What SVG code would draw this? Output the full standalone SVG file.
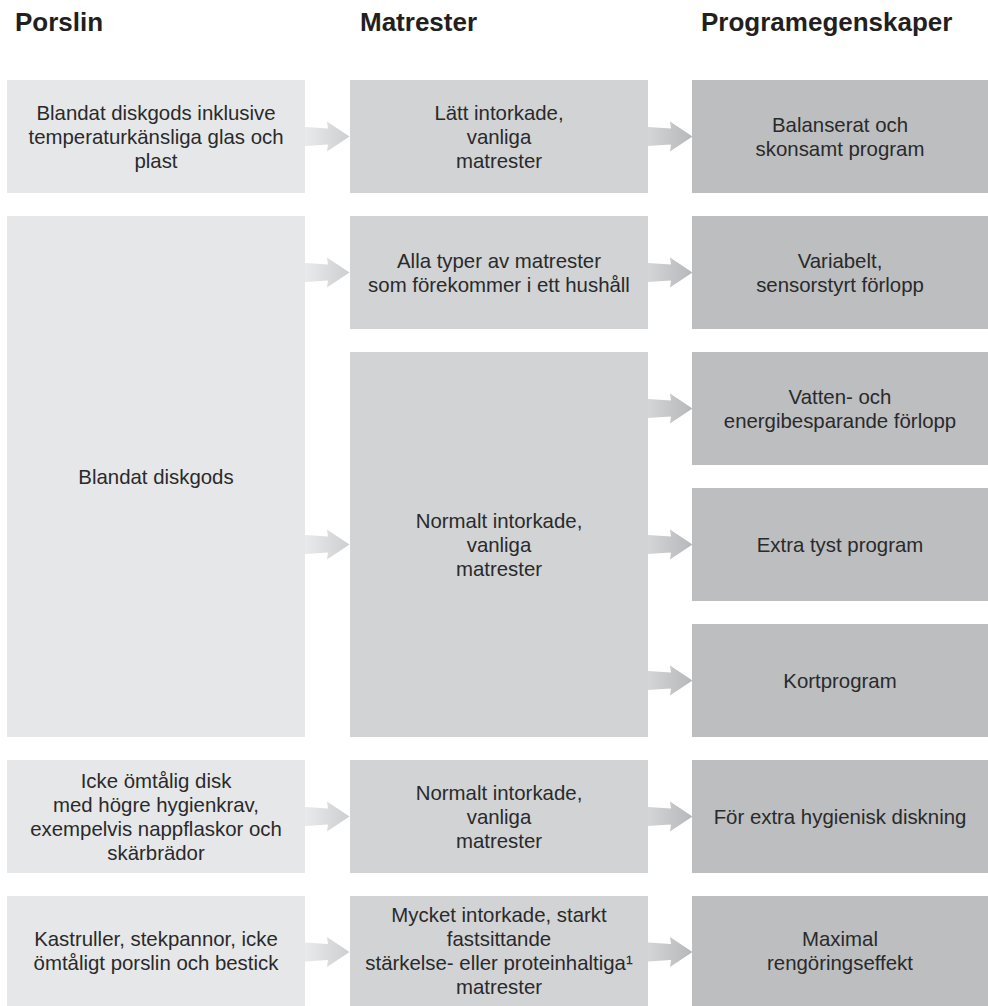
<svg xmlns="http://www.w3.org/2000/svg" width="988" height="1006" viewBox="0 0 988 1006">
<style>
.h{font-family:"Liberation Sans",Arial,sans-serif;font-weight:bold;font-size:26px;fill:#231f20}
.t{font-family:"Liberation Sans",Arial,sans-serif;font-size:20.4px;fill:#2a2a2b;text-anchor:middle}
.c1{fill:#e6e7e8}
.c2{fill:#d1d3d4}
.c3{fill:#bcbec0}
.a1{fill:url(#g1)}
.a2{fill:url(#g2)}
</style>
<defs>
<linearGradient id="g1" x1="0" y1="0" x2="1" y2="0">
<stop offset="0" stop-color="#e9eaeb"/>
<stop offset="1" stop-color="#cdcecf"/>
</linearGradient>
<linearGradient id="g2" x1="0" y1="0" x2="1" y2="0">
<stop offset="0" stop-color="#d4d5d7"/>
<stop offset="1" stop-color="#b6b7ba"/>
</linearGradient>
<path id="arr" d="M0,-9.5 L23,-8 L22,-15 L44.5,0 L22,15 L23,8 L0,9.5 Z"/>
</defs>

<g id="headers">
<text class="h" x="15" y="31">Porslin</text>
<text class="h" x="360" y="31">Matrester</text>
<text class="h" x="701" y="31">Programegenskaper</text>
</g>

<g id="connectors">
<use href="#arr" class="a1" x="305" y="136.5"/>
<use href="#arr" class="a2" x="648" y="136.5"/>
<use href="#arr" class="a1" x="305" y="272.5"/>
<use href="#arr" class="a2" x="648" y="272.5"/>
<use href="#arr" class="a1" x="305" y="544.5"/>
<use href="#arr" class="a2" x="648" y="408.5"/>
<use href="#arr" class="a2" x="648" y="544.5"/>
<use href="#arr" class="a2" x="648" y="680.5"/>
<use href="#arr" class="a1" x="305" y="816.5"/>
<use href="#arr" class="a2" x="648" y="816.5"/>
<use href="#arr" class="a1" x="305" y="952"/>
<use href="#arr" class="a2" x="648" y="952"/>
</g>

<g id="p1">
<rect class="c1" x="7" y="80" width="298" height="113"/>
<text class="t"><tspan x="156" y="120">Blandat diskgods inklusive</tspan><tspan x="156" y="144">temperaturkänsliga glas och</tspan><tspan x="156" y="168">plast</tspan></text>
</g>
<g id="m1">
<rect class="c2" x="350" y="80" width="298" height="113"/>
<text class="t"><tspan x="499" y="120">Lätt intorkade,</tspan><tspan x="499" y="144">vanliga</tspan><tspan x="499" y="168">matrester</tspan></text>
</g>
<g id="e1">
<rect class="c3" x="692" y="80" width="296" height="113"/>
<text class="t"><tspan x="840" y="132">Balanserat och</tspan><tspan x="840" y="156">skonsamt program</tspan></text>
</g>

<g id="p2">
<rect class="c1" x="7" y="216" width="298" height="521"/>
<text class="t" x="156" y="484">Blandat diskgods</text>
</g>
<g id="m2">
<rect class="c2" x="350" y="216" width="298" height="113"/>
<text class="t"><tspan x="499" y="268">Alla typer av matrester</tspan><tspan x="499" y="292">som förekommer i ett hushåll</tspan></text>
</g>
<g id="e2">
<rect class="c3" x="692" y="216" width="296" height="113"/>
<text class="t"><tspan x="840" y="268">Variabelt,</tspan><tspan x="840" y="292">sensorstyrt förlopp</tspan></text>
</g>

<g id="m3">
<rect class="c2" x="350" y="352" width="298" height="385"/>
<text class="t"><tspan x="499" y="528">Normalt intorkade,</tspan><tspan x="499" y="552">vanliga</tspan><tspan x="499" y="576">matrester</tspan></text>
</g>
<g id="e3">
<rect class="c3" x="692" y="352" width="296" height="113"/>
<text class="t"><tspan x="840" y="404">Vatten- och</tspan><tspan x="840" y="428">energibesparande förlopp</tspan></text>
</g>
<g id="e4">
<rect class="c3" x="692" y="488" width="296" height="113"/>
<text class="t" x="840" y="552">Extra tyst program</text>
</g>
<g id="e5">
<rect class="c3" x="692" y="624" width="296" height="113"/>
<text class="t" x="840" y="688">Kortprogram</text>
</g>

<g id="p3">
<rect class="c1" x="7" y="760" width="298" height="113"/>
<text class="t"><tspan x="156" y="788">Icke ömtålig disk</tspan><tspan x="156" y="812">med högre hygienkrav,</tspan><tspan x="156" y="836">exempelvis nappflaskor och</tspan><tspan x="156" y="860">skärbrädor</tspan></text>
</g>
<g id="m4">
<rect class="c2" x="350" y="760" width="298" height="113"/>
<text class="t"><tspan x="499" y="800">Normalt intorkade,</tspan><tspan x="499" y="824">vanliga</tspan><tspan x="499" y="848">matrester</tspan></text>
</g>
<g id="e6">
<rect class="c3" x="692" y="760" width="296" height="113"/>
<text class="t" x="840" y="824">För extra hygienisk diskning</text>
</g>

<g id="p4">
<rect class="c1" x="7" y="896" width="298" height="113"/>
<text class="t"><tspan x="156" y="945.5">Kastruller, stekpannor, icke</tspan><tspan x="156" y="969.5">ömtåligt porslin och bestick</tspan></text>
</g>
<g id="m5">
<rect class="c2" x="350" y="896" width="298" height="113"/>
<text class="t"><tspan x="499" y="921.5">Mycket intorkade, starkt</tspan><tspan x="499" y="945.5">fastsittande</tspan><tspan x="499" y="969.5">stärkelse- eller proteinhaltiga¹</tspan><tspan x="499" y="993.5">matrester</tspan></text>
</g>
<g id="e7">
<rect class="c3" x="692" y="896" width="296" height="113"/>
<text class="t"><tspan x="840" y="945.5">Maximal</tspan><tspan x="840" y="969.5">rengöringseffekt</tspan></text>
</g>
</svg>
